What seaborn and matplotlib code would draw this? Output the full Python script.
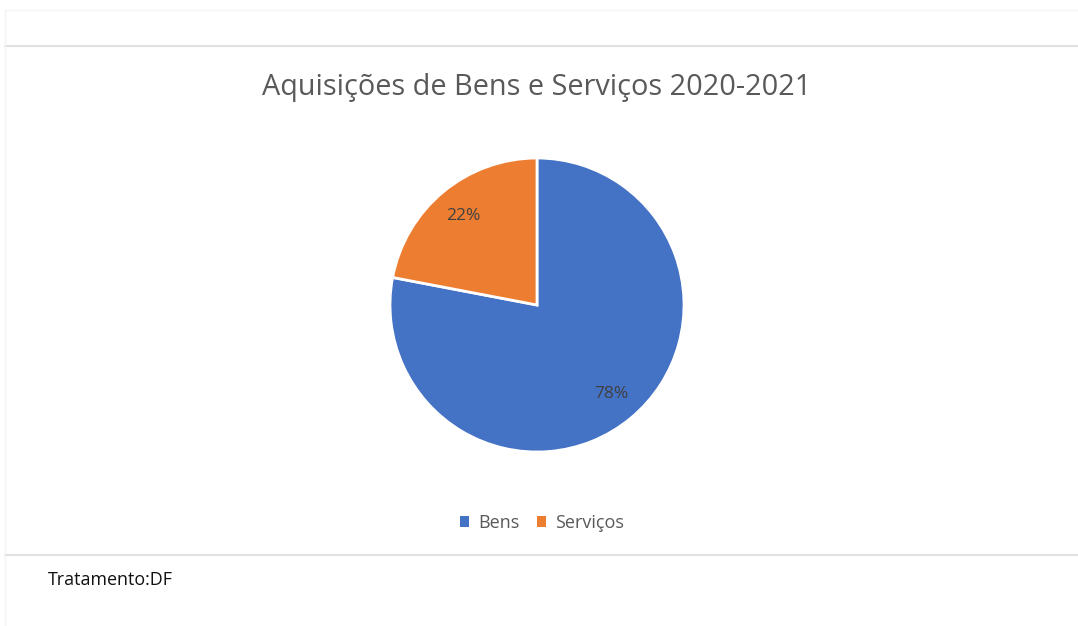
import matplotlib
matplotlib.use("Agg")
import matplotlib.pyplot as plt
import seaborn as sns
from matplotlib.lines import Line2D
from matplotlib.patches import Patch

categories = ["Bens", "Serviços"]
values = [78, 22]
colors = ["#4472C4", "#ED7D31"]
title = "Aquisições de Bens e Serviços 2020-2021"
footer = "Tratamento:DF"

sns.set_theme(style="white")
plt.rcParams["font.family"] = ["Open Sans", "DejaVu Sans"]

W, H = 1078, 626
fig = plt.figure(figsize=(W / 100, H / 100), dpi=100)
fig.patch.set_facecolor("white")

# pie axes: center (537,305), radius 147 px
r = 147
cx, cy = 537, 305
ax = fig.add_axes([(cx - r) / W, (H - cy - r) / H, 2 * r / W, 2 * r / H])
wedges, texts, autotexts = ax.pie(
    values, colors=colors, startangle=90, counterclock=False,
    autopct=lambda p: f"{p:.0f}%", pctdistance=0.79,
    wedgeprops=dict(edgecolor="white", linewidth=2),
    textprops=dict(color="#404040", fontsize=12.5),
)
ax.set_xlim(-1, 1)
ax.set_ylim(-1, 1)
ax.set_aspect("equal")
ax.axis("off")

fig.text(cx / W, 1 - 88 / H, title, ha="center", va="center",
         fontsize=20.8, color="#595959")

handles = [Patch(facecolor=c, edgecolor="none") for c in colors]
leg = fig.legend(handles, categories, loc="center", bbox_to_anchor=(542 / W, 1 - 523 / H),
                 ncol=2, frameon=False, fontsize=13, handlelength=0.5, handleheight=0.5,
                 handletextpad=0.5, columnspacing=1.0)
for t in leg.get_texts():
    t.set_color("#595959")

fig.text(48 / W, 1 - 580 / H, footer, ha="left", va="center", fontsize=12.9, color="#111111")

# frame lines
for y in (46, 555):
    fig.add_artist(Line2D([5 / W, 1], [1 - y / H, 1 - y / H], color="#e0e0e0", linewidth=1.5,
                          transform=fig.transFigure))
fig.add_artist(Line2D([5 / W, 1], [1 - 10 / H, 1 - 10 / H], color="#f5f5f5", linewidth=1,
                      transform=fig.transFigure))
fig.add_artist(Line2D([5 / W, 5 / W], [0, 1 - 10 / H], color="#f3f3f3", linewidth=1,
                      transform=fig.transFigure))

fig.savefig("out.png", dpi=100, facecolor="white")
